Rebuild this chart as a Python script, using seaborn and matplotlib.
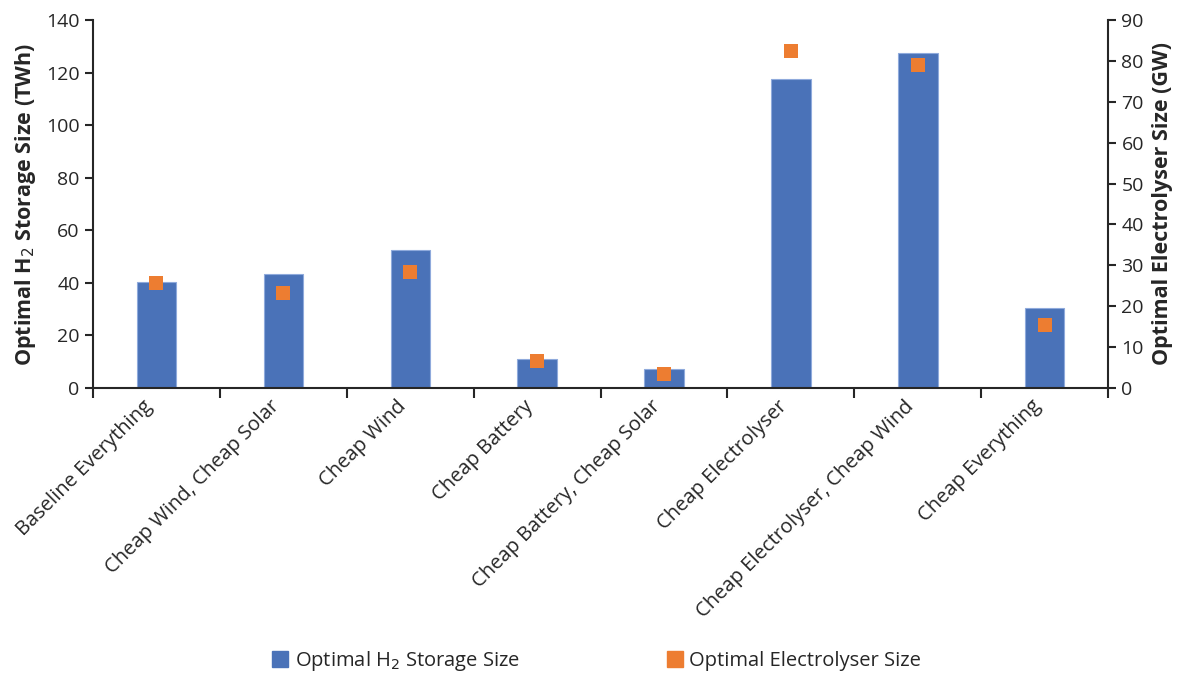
import matplotlib
matplotlib.use('Agg')
import matplotlib.pyplot as plt
import matplotlib.transforms as mtransforms
from matplotlib.lines import Line2D
from matplotlib.ticker import MultipleLocator
import pandas as pd
import seaborn as sns

# Dữ liệu
scenarios = ['Baseline Everything', 'Cheap Wind, Cheap Solar', 'Cheap Wind', 'Cheap Battery',
             'Cheap Battery, Cheap Solar', 'Cheap Electrolyser', 'Cheap Electrolyser, Cheap Wind',
             'Cheap Everything']
storage_twh = [40.2, 43.2, 52.4, 11.0, 7.4, 117.4, 127.3, 30.3]
electrolyser_gw = [25.6, 23.2, 28.3, 6.6, 3.4, 82.5, 79.0, 15.3]

blue = '#4A72B8'
orange = '#ED7D31'

df = pd.DataFrame({'scenario': scenarios, 'storage': storage_twh, 'electrolyser': electrolyser_gw})

sns.set_style('ticks')
plt.rcParams['font.family'] = ['Open Sans', 'DejaVu Sans']

fig = plt.figure(figsize=(11.84, 6.9), dpi=100)
ax = fig.add_axes([0.0785, 0.4377, 0.8575, 0.5333])

sns.barplot(data=df, x='scenario', y='storage', color=blue, width=0.31, saturation=1,
            edgecolor='#8FAADC', linewidth=0.8, ax=ax)
ax.set_xlim(-0.5, len(scenarios) - 0.5)
ax.set_ylim(0, 140)
ax.yaxis.set_major_locator(MultipleLocator(20))

ax2 = ax.twinx()
sns.scatterplot(data=df, x='scenario', y='electrolyser', color=orange, marker='s', s=110,
                linewidth=0, ax=ax2, zorder=5)
ax2.set_ylim(0, 90)
ax2.yaxis.set_major_locator(MultipleLocator(10))
ax2.set_xlim(-0.5, len(scenarios) - 0.5)

# Trục x: vạch chia giữa các nhóm kiểu Excel
ax.set_xticks(range(len(scenarios)))
ax.set_xticklabels(scenarios, rotation=45, ha='right', rotation_mode='anchor', fontsize=14.5)
ax.tick_params(axis='x', length=0, pad=6)
ax.set_xticks([i - 0.5 for i in range(len(scenarios) + 1)], minor=True)
ax.tick_params(axis='x', which='minor', length=7, width=1.5, direction='out')
shift = mtransforms.ScaledTranslation(-0.14, 0, fig.dpi_scale_trans)
for lbl in ax.get_xticklabels():
    lbl.set_transform(lbl.get_transform() + shift)

ax.tick_params(axis='y', labelsize=14, length=6, width=1.5, direction='out')
ax2.tick_params(axis='y', labelsize=14, length=6, width=1.5, direction='out')

for a in (ax, ax2):
    for side in ['left', 'right', 'bottom']:
        a.spines[side].set_linewidth(1.5)
    a.spines['top'].set_visible(False)
ax.spines['right'].set_visible(False)
ax2.spines['left'].set_visible(False)
ax2.spines['bottom'].set_visible(False)

ax.set_xlabel('')
ax.set_ylabel('Optimal H$_2$ Storage Size (TWh)', fontsize=15.5, fontweight='bold', labelpad=6)
ax2.set_xlabel('')
ax2.set_ylabel('Optimal Electrolyser Size (GW)', fontsize=15.5, fontweight='bold', rotation=90,
               labelpad=6)

handles = [
    Line2D([], [], marker='s', color=blue, linestyle='none', markersize=11),
    Line2D([], [], marker='s', color=orange, linestyle='none', markersize=11),
]
fig.legend(handles, ['Optimal H$_2$ Storage Size', 'Optimal Electrolyser Size'],
           loc='center', bbox_to_anchor=(0.503, 0.042), ncol=2, frameon=False, fontsize=14.5,
           handletextpad=0.2, columnspacing=7.2, handlelength=1)

fig.savefig('out.png', dpi=100)
